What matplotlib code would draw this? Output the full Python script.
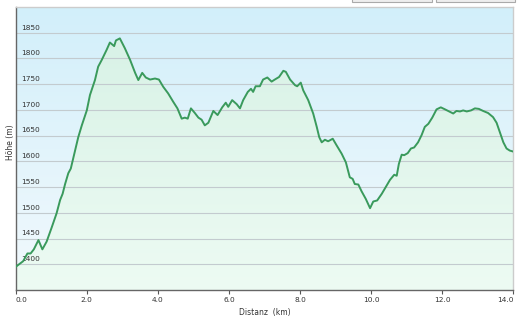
import numpy as np
import matplotlib
matplotlib.use('Agg')
import matplotlib.pyplot as plt
from matplotlib.colors import LinearSegmentedColormap
from matplotlib.patches import Rectangle

# elevation profile
dist_km = [0.00, 0.21, 0.33, 0.42, 0.51, 0.64, 0.75, 0.87, 1.01, 1.15, 1.25, 1.32, 1.39, 1.48, 1.55,
           1.67, 1.76, 1.86, 2.00, 2.09, 2.23, 2.32, 2.42, 2.56, 2.65, 2.77, 2.82, 2.93, 3.07, 3.22,
           3.36, 3.45, 3.56, 3.66, 3.78, 3.92, 4.03, 4.15, 4.29, 4.43, 4.55, 4.67, 4.76, 4.84, 4.93,
           5.04, 5.14, 5.23, 5.32, 5.42, 5.56, 5.68, 5.81, 5.91, 5.98, 6.09, 6.22, 6.31, 6.40, 6.53,
           6.62, 6.68, 6.75, 6.87, 6.96, 7.08, 7.20, 7.29, 7.41, 7.53, 7.60, 7.72, 7.86, 7.92, 8.02,
           8.09, 8.23, 8.37, 8.47, 8.54, 8.61, 8.70, 8.79, 8.92, 9.03, 9.17, 9.29, 9.40, 9.48, 9.54,
           9.64, 9.73, 9.85, 9.97, 10.06, 10.17, 10.30, 10.42, 10.53, 10.65, 10.72, 10.78, 10.86,
           10.93, 11.03, 11.12, 11.21, 11.32, 11.42, 11.51, 11.61, 11.72, 11.84, 11.96, 12.08, 12.22,
           12.31, 12.40, 12.50, 12.59, 12.69, 12.81, 12.92, 13.03, 13.15, 13.29, 13.43, 13.53, 13.62,
           13.72, 13.81, 13.90, 14.00]
elev_m = [1395, 1406, 1421, 1421, 1429, 1447, 1429, 1444, 1471, 1499, 1525, 1537, 1556, 1577, 1586,
          1621, 1647, 1670, 1699, 1729, 1758, 1784, 1797, 1817, 1831, 1824, 1835, 1839, 1820, 1797,
          1772, 1758, 1772, 1763, 1759, 1761, 1759, 1745, 1732, 1716, 1703, 1683, 1685, 1683, 1703,
          1694, 1685, 1681, 1670, 1675, 1698, 1690, 1705, 1714, 1706, 1719, 1711, 1703, 1719, 1735,
          1741, 1735, 1746, 1746, 1759, 1763, 1755, 1759, 1764, 1776, 1774, 1759, 1748, 1746, 1753,
          1738, 1719, 1693, 1667, 1647, 1637, 1642, 1639, 1644, 1631, 1615, 1598, 1569, 1566, 1556,
          1555, 1542, 1527, 1509, 1522, 1524, 1537, 1551, 1564, 1574, 1572, 1595, 1613,
          1612, 1616, 1625, 1627, 1637, 1651, 1667, 1673, 1685, 1701, 1705, 1701, 1696,
          1693, 1698, 1697, 1699, 1697, 1699, 1703, 1702, 1698, 1694, 1686, 1675, 1657,
          1637, 1625, 1621, 1619]

x_ticks = [0, 2, 4, 6, 8, 10, 12, 14]
y_ticks = [1400, 1450, 1500, 1550, 1600, 1650, 1700, 1750, 1800, 1850]
x_min, x_max = 0, 14
y_min, y_max = 1350, 1900

fig = plt.figure(figsize=(5.2, 3.18), dpi=100)
ax = fig.add_axes([15.7 / 520, 1 - 290 / 318, (513.3 - 15.7) / 520, (290 - 7) / 318])
ax.set_xlim(x_min, x_max)
ax.set_ylim(y_min, y_max)

# blue background gradient
bg = LinearSegmentedColormap.from_list('bg', ['#f2f9fd', '#d2effa'])
grad = np.linspace(0, 1, 256).reshape(-1, 1)
ax.imshow(grad, cmap=bg, extent=[x_min, x_max, y_min, y_max], origin='lower',
          aspect='auto', zorder=0)

# green gradient under the profile
fg = LinearSegmentedColormap.from_list('fg', ['#edfbf3', '#d6f1e5'])
img = ax.imshow(grad, cmap=fg, extent=[x_min, x_max, y_min, y_max], origin='lower',
                aspect='auto', zorder=1)
poly = ax.fill_between(dist_km, elev_m, y_min, color='none', lw=0)
clip = poly.get_paths()[0]
img.set_clip_path(clip, transform=ax.transData)

for v in y_ticks:
    ax.axhline(v, color='#c3cbcf', lw=0.8, zorder=2)
    ax.annotate(str(v), xy=(0, v), xytext=(3.6, 1.6), textcoords='offset points',
                fontsize=5.3, color='#333333', ha='left', va='bottom', zorder=3)

ax.plot(dist_km, elev_m, color='#3a9a5c', lw=1.4, zorder=4)

ax.set_yticks([])
ax.set_xticks(x_ticks)
ax.set_xticklabels(['%.1f' % t for t in x_ticks], fontsize=5.3, color='#333333')
labels = ax.get_xticklabels()
labels[0].set_ha('left')
labels[-1].set_ha('right')
ax.tick_params(axis='x', direction='out', length=3, width=0.8, color='#555555', pad=2)

for s in ['left', 'bottom']:
    ax.spines[s].set_color('#666666')
    ax.spines[s].set_linewidth(1)
for s in ['top', 'right']:
    ax.spines[s].set_color('#cccccc')
    ax.spines[s].set_linewidth(1)

fig.text(265 / 520, 1 - 312.5 / 318, 'Distanz  (km)', fontsize=5.5, color='#333333',
         ha='center', va='center')
fig.text(10.5 / 520, 1 - 142 / 318, 'Höhe (m)', fontsize=5.5, color='#333333',
         ha='center', va='center', rotation=90)

# bits of the buttons peeking in at the top
for x0, x1 in [(352, 432), (436, 515)]:
    fig.patches.append(Rectangle((x0 / 520, 1 - 1.5 / 318), (x1 - x0) / 520, 5 / 318,
                                 transform=fig.transFigure, facecolor='#eeeeee',
                                 edgecolor='#aaaaaa', lw=0.8))

fig.savefig('out.png', dpi=100)
